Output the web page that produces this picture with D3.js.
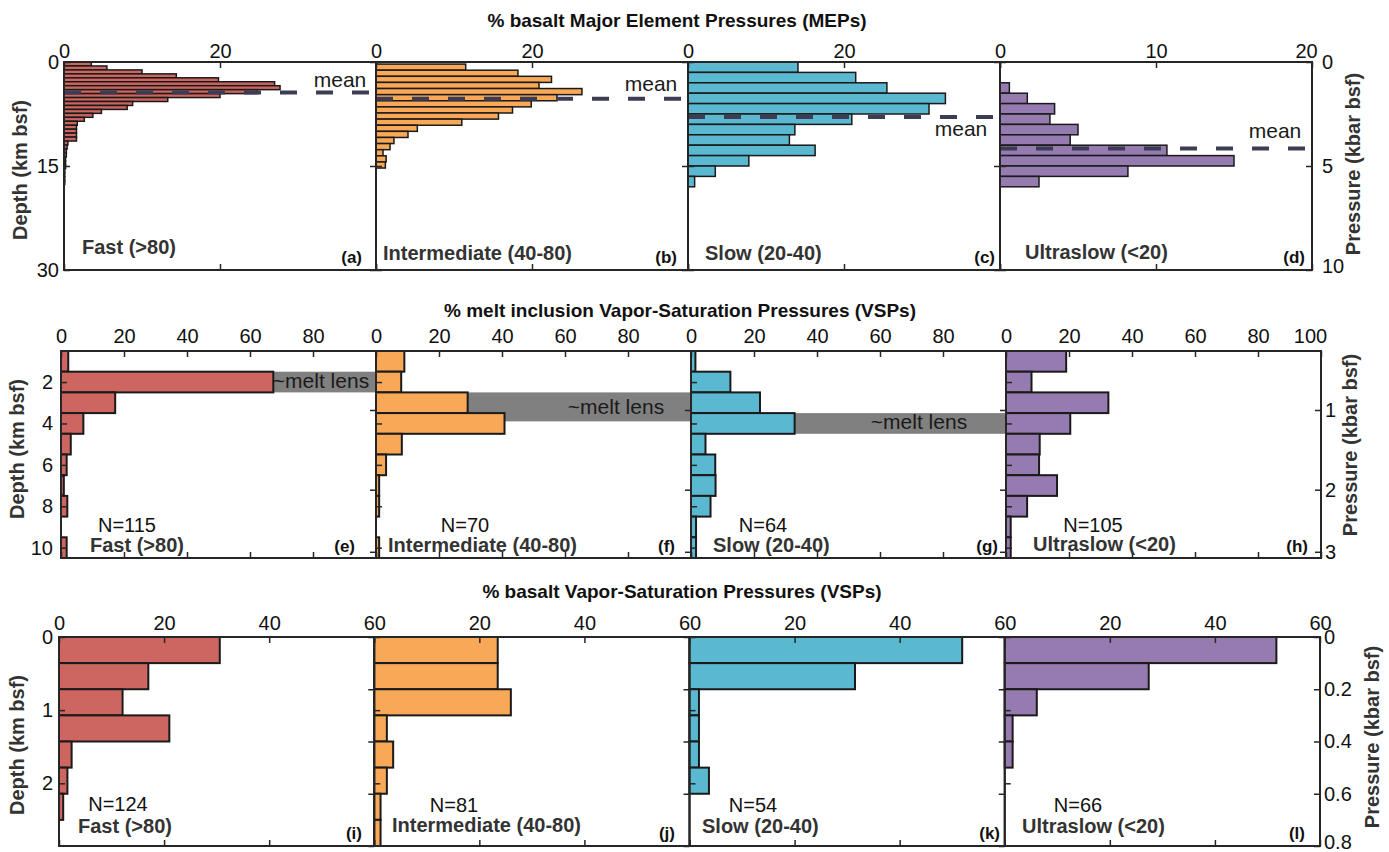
<!DOCTYPE html>
<html lang="en">
<head>
<meta charset="utf-8">
<script src="https://cdn.jsdelivr.net/npm/d3@7"></script>
<style>
  body { margin: 0; background: #fff; }
  svg text { font-family: "Liberation Sans", Arial, Helvetica, sans-serif; }
</style>
</head>
<body>
<svg id="chart" width="1389" height="852"></svg>
<script>

var speeds = ["Fast (>80)", "Intermediate (40-80)", "Slow (20-40)", "Ultraslow (<20)"];
var letters = [["(a)", "(b)", "(c)", "(d)"], ["(e)", "(f)", "(g)", "(h)"], ["(i)", "(j)", "(k)", "(l)"]];
var colors = ["#cd6660", "#f9a857", "#5bb8d1", "#957baf"];

// row 1: % basalt MEPs, histogram bins in kbar (start, width)
var mepStart = [0, 0.1, 0, 1.0];
var mepWidth = [0.19, 0.294, 0.5, 0.5];
var mepFast = [3.5, 5.5, 10, 14.4, 19.8, 27, 27.7, 24.8, 20, 13.3, 8.8, 8.1, 4.8, 3.7, 2.6,
               1.7, 1.6, 1.6, 1.6, 1.6, 0.5, 0.4, 0.3, 0.3, 0.2, 0.2, 0.2, 0.1, 0.1, 0.1, 0.1];
var mepInter = [11.5, 18.2, 22.5, 20.9, 26.4, 23.2, 19.9, 17.5, 15.7, 11, 5.3, 4.1, 2.3, 1.8, 0.9, 1.3, 1.2];
var mepSlow = [14.1, 21.5, 25.5, 33, 30.9, 21, 13.7, 13, 16.3, 7.8, 3.5, 0.85];
var mepUltra = [0.6, 1.75, 3.5, 3.2, 5.0, 4.5, 10.7, 15.0, 8.2, 2.5];
var mepMean = [1.47, 1.77, 2.64, 4.16];

// row 2: % melt inclusion VSPs, 1 km bins centred on these depths
var miDepth = [1, 2, 3, 4, 5, 6, 7, 8, 9, 10];
var miFast = [2.3, 67.4, 17.2, 7.1, 3.1, 1.8, 0.9, 2.0, 0, 1.8];
var miInter = [9.0, 8.0, 29.1, 40.8, 8.2, 3.2, 1.0, 1.0, 0, 1.0];
var miSlow = [1.4, 12.5, 21.9, 32.9, 4.6, 7.7, 7.8, 6.2, 1.6, 1.6];
var miUltra = [19.1, 8.1, 32.5, 20.4, 10.7, 10.5, 16.2, 6.7, 1.5, 1.5];
var miN = [115, 70, 64, 105];
// pressure ticks on the right and the depths they sit at
var miPressTicks = [1, 2, 3];
var miPressDepth = [3.35, 7.2, 10.2];
// ~melt lens bands (km)
var lensTop = [1.5, 2.5, 3.5];
var lensBottom = [2.5, 3.9, 4.5];

// row 3: % basalt VSPs, 0.1 kbar bins
var basBins = [0, 0.1, 0.2, 0.3, 0.4, 0.5, 0.6, 0.7];
var basFast = [30.6, 17.0, 12.1, 21.0, 2.4, 1.6, 0.8];
var basInter = [23.5, 23.5, 26.0, 2.4, 3.6, 2.4, 1.2, 1.2];
var basSlow = [51.9, 31.5, 1.8, 1.8, 1.8, 3.7];
var basUltra = [51.7, 27.4, 6.1, 1.5, 1.5];
var basN = [124, 81, 54, 66];

function mepBars(vals, k) {
  return vals.map(function(v, i) {
    return { y0: mepStart[k] + i * mepWidth[k], y1: mepStart[k] + (i + 1) * mepWidth[k], v: v };
  });
}
function miBars(vals) {
  return vals.map(function(v, i) { return { y0: miDepth[i] - 0.5, y1: miDepth[i] + 0.5, v: v }; });
}
function basBars(vals) {
  return vals.map(function(v, i) { return { y0: basBins[i], y1: basBins[i] + 0.1, v: v }; });
}

var rows = [
  { title: "% basalt Major Element Pressures (MEPs)", titleX: 677, titleY: 27,
    x0: 64, w: 312, top: 62, bottom: 270, barStroke: 1.5,
    xMax: [40, 40, 40, 20], xTicks: [[0, 20, 40], [0, 20, 40], [0, 20, 40], [0, 10, 20]], hide: "max", lastShift: -6,
    depthDomain: [0, 30], depthTicks: [0, 15, 30],
    pressDomain: [0, 10], pressTicks: [0, 5, 10], pressFmt: d3.format("d"),
    topPad: 4, leftPad: 5, rightPad: 10,
    leftTitle: [20, 170], rightTitle: [1353, 164],
    bars: [mepBars(mepFast, 0), mepBars(mepInter, 1), mepBars(mepSlow, 2), mepBars(mepUltra, 3)],
    speedPos: [[82, 254], [383, 260], [705, 260], [1025, 259]],
    letterPos: [[362, 263], [677, 263], [995, 263], [1305, 263]] },
  { title: "% melt inclusion Vapor-Saturation Pressures (VSPs)", titleX: 680, titleY: 317,
    x0: 61, w: 315, top: 351, bottom: 558, barStroke: 2,
    xMax: [100, 100, 100, 100], xTicks: [[0, 20, 40, 60, 80, 100], [0, 20, 40, 60, 80, 100], [0, 20, 40, 60, 80, 100], [0, 20, 40, 60, 80, 100]], hide: "max", lastShift: -11,
    depthDomain: [0.5, 10.5], depthTicks: [2, 4, 6, 8, 10],
    pressTicks: miPressTicks, pressFmt: d3.format("d"),
    topPad: 8, leftPad: 8, rightPad: 4,
    leftTitle: [17, 449], rightTitle: [1350, 445],
    bars: [miBars(miFast), miBars(miInter), miBars(miSlow), miBars(miUltra)],
    counts: miN, nPos: [[127, 532], [465, 532], [763, 532], [1093, 532]],
    speedPos: [[90, 552], [388, 552], [713, 552], [1033, 551]],
    letterPos: [[355, 552], [675, 552], [998, 552], [1308, 552]] },
  { title: "% basalt Vapor-Saturation Pressures (VSPs)", titleX: 682, titleY: 598,
    x0: 59, w: 315.25, top: 637, bottom: 846, barStroke: 2,
    xMax: [60, 60, 60, 60], xTicks: [[0, 20, 40, 60], [0, 20, 40, 60], [0, 20, 40, 60], [0, 20, 40, 60]], hide: "min", lastShift: 0,
    depthDomain: [0, 0.8 / 0.28], depthTicks: [0, 1, 2],
    pressDomain: [0, 0.8], pressTicks: [0, 0.2, 0.4, 0.6, 0.8], pressFmt: function(d) { return d === 0 ? "0" : d3.format(".1f")(d); },
    topPad: 7, leftPad: 6, rightPad: 4,
    leftTitle: [17, 745], rightTitle: [1372, 737],
    bars: [basBars(basFast), basBars(basInter), basBars(basSlow), basBars(basUltra)],
    counts: basN, nPos: [[118, 811], [454, 812], [753, 812], [1078, 812]],
    speedPos: [[78, 833], [392, 832], [702, 833], [1022, 833]],
    letterPos: [[362, 839], [675, 839], [1000, 839], [1305, 839]] }
];

var meanPos = [[340, 87], [651, 91], [961, 136], [1275, 138]];
var lensPos = [[321, 388], [616, 414], [919, 429]];

var svg = d3.select("#chart");
var axisCol = "#262626";

function styleAxis(sel) {
  sel.select(".domain").remove();
  sel.selectAll(".tick line").attr("stroke", axisCol).attr("stroke-width", 1.5);
  sel.selectAll(".tick text").attr("fill", "#111").style("font-size", "20px")
    .style("font-family", '"Liberation Sans", Arial, Helvetica, sans-serif');
}

rows.forEach(function(r, ri) {
  var yDepth = d3.scaleLinear().domain(r.depthDomain).range([r.top, r.bottom]);
  var yPress = ri === 1
    ? d3.scaleLinear().domain(miPressTicks).range(miPressDepth.map(yDepth))
    : d3.scaleLinear().domain(r.pressDomain).range([r.top, r.bottom]);
  var yBar = ri === 1 ? yDepth : yPress;

  svg.append("text").attr("x", r.titleX).attr("y", r.titleY)
    .attr("text-anchor", "middle").style("font-size", "19px").style("font-weight", "bold")
    .attr("fill", "#111").text(r.title);

  for (var pi = 0; pi < 4; pi++) {
    var left = r.x0 + pi * r.w, right = left + r.w;
    var x = d3.scaleLinear().domain([0, r.xMax[pi]]).range([left, right]);
    var g = svg.append("g");

    // ~melt lens bands behind the bars
    if (ri === 1 && pi < 3) {
      g.append("rect").attr("x", left).attr("width", r.w)
        .attr("y", yDepth(lensTop[pi])).attr("height", yDepth(lensBottom[pi]) - yDepth(lensTop[pi]))
        .attr("fill", "#808080");
    }

    g.selectAll("rect.bar").data(r.bars[pi].filter(function(d) { return d.v > 0; }))
      .join("rect").attr("class", "bar")
      .attr("x", x(0))
      .attr("y", function(d) { return yBar(d.y0); })
      .attr("width", function(d) { return x(d.v) - x(0); })
      .attr("height", function(d) { return yBar(d.y1) - yBar(d.y0); })
      .attr("fill", colors[pi]).attr("stroke", "#1a1a1a").attr("stroke-width", r.barStroke);

    if (ri === 1 && pi < 3) {
      g.append("text").attr("x", lensPos[pi][0]).attr("y", lensPos[pi][1])
        .attr("text-anchor", "middle").style("font-size", "21px").attr("fill", "#1a1a1a")
        .text("~melt lens");
    }

    if (ri === 0) {
      g.append("line").attr("x1", left).attr("x2", right)
        .attr("y1", yPress(mepMean[pi])).attr("y2", yPress(mepMean[pi]))
        .attr("stroke", "#3c3c54").attr("stroke-width", 4).attr("stroke-dasharray", "17,19");
      g.append("text").attr("x", meanPos[pi][0]).attr("y", meanPos[pi][1])
        .attr("text-anchor", "middle").style("font-size", "21px").attr("fill", "#1a1a1a")
        .text("mean");
    }

    // axes, ticks pointing inward
    var firstP = pi === 0, lastP = pi === 3;
    var maxV = r.xMax[pi];
    var topAxis = d3.axisTop(x).tickValues(r.xTicks[pi]).tickSize(-6).tickPadding(r.topPad)
      .tickFormat(function(d) {
        if (r.hide === "max" && !lastP && d === maxV) return "";
        if (r.hide === "min" && !firstP && d === 0) return "";
        return d;
      });
    var ta = g.append("g").attr("transform", "translate(0," + r.top + ")").call(topAxis).call(styleAxis);
    if (lastP) {
      ta.selectAll(".tick text").filter(function(d) { return d === maxV; }).attr("dx", r.lastShift);
    }
    g.append("g").attr("transform", "translate(0," + r.bottom + ")")
      .call(d3.axisBottom(x).tickValues(r.xTicks[pi]).tickSize(-6).tickFormat("")).call(styleAxis);

    g.append("g").attr("transform", "translate(" + left + ",0)")
      .call(d3.axisLeft(yDepth).tickValues(r.depthTicks).tickSize(-6).tickPadding(r.leftPad)
        .tickFormat(firstP ? d3.format("d") : "")).call(styleAxis);
    var ra = g.append("g").attr("transform", "translate(" + right + ",0)")
      .call(d3.axisRight(yPress).tickValues(r.pressTicks).tickSize(-6).tickPadding(r.rightPad)
        .tickFormat(lastP ? r.pressFmt : "")).call(styleAxis);
    // keep the bottom pressure label inside the picture
    ra.selectAll(".tick text").filter(function(d) { return yPress(d) > r.bottom - 2; }).attr("dy", "0.1em");

    g.append("rect").attr("x", left).attr("y", r.top).attr("width", r.w).attr("height", r.bottom - r.top)
      .attr("fill", "none").attr("stroke", axisCol).attr("stroke-width", 2);

    if (r.counts) {
      g.append("text").attr("x", r.nPos[pi][0]).attr("y", r.nPos[pi][1])
        .attr("text-anchor", "middle").style("font-size", "20px").attr("fill", "#111")
        .text("N=" + r.counts[pi]);
    }
    g.append("text").attr("x", r.speedPos[pi][0]).attr("y", r.speedPos[pi][1])
      .style("font-size", "20px").style("font-weight", "bold").attr("fill", "#333")
      .text(speeds[pi]);
    g.append("text").attr("x", r.letterPos[pi][0]).attr("y", r.letterPos[pi][1])
      .attr("text-anchor", "end").style("font-size", "17px").style("font-weight", "bold").attr("fill", "#111")
      .text(letters[ri][pi]);
  }

  svg.append("text").attr("transform", "translate(" + r.leftTitle[0] + "," + r.leftTitle[1] + ") rotate(-90)")
    .attr("text-anchor", "middle").attr("dominant-baseline", "central")
    .style("font-size", "20px").style("font-weight", "bold").attr("fill", "#333")
    .text("Depth (km bsf)");
  svg.append("text").attr("transform", "translate(" + r.rightTitle[0] + "," + r.rightTitle[1] + ") rotate(-90)")
    .attr("text-anchor", "middle").attr("dominant-baseline", "central")
    .style("font-size", "20px").style("font-weight", "bold").attr("fill", "#333")
    .text("Pressure (kbar bsf)");
});

</script>
</body>
</html>
